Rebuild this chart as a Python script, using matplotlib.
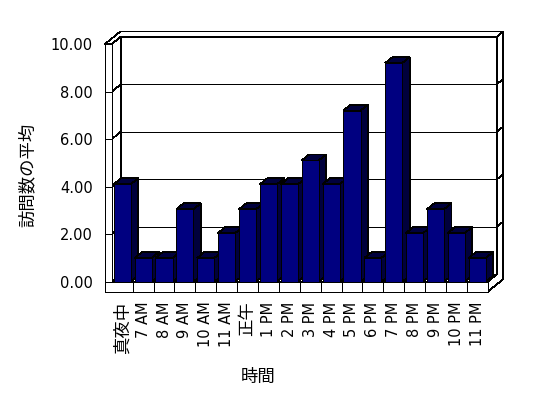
import matplotlib
matplotlib.use("Agg")
import matplotlib.pyplot as plt
from matplotlib.patches import Polygon

# Data
HOURS = ['真夜中', '7 AM', '8 AM', '9 AM', '10 AM', '11 AM', '正午', '1 PM', '2 PM',
         '3 PM', '4 PM', '5 PM', '6 PM', '7 PM', '8 PM', '9 PM', '10 PM', '11 PM']
AVG_VISITS = [4.1, 1.0, 1.0, 3.05, 1.0, 2.05, 3.05, 4.1, 4.1,
              5.1, 4.1, 7.2, 1.0, 9.2, 2.05, 3.05, 2.05, 1.0]
Y_TICKS = [0, 2, 4, 6, 8, 10]
Y_LABEL = '訪問数の平均'
X_LABEL = '時間'

# Look
FIG_W, FIG_H, DPI = 548, 398, 100
DEPTH = (0.75, 0.53)      # oblique offset of full depth, in data units
BAR_DEPTH = 0.47          # back face of the columns
WALL_DEPTH = 0.58         # front face of the back wall
LEFT_WALL = 0.33          # thickness of left wall (x units)
FLOOR = 0.42              # thickness of floor (y units)
BAR_WIDTH = 0.82
FRONT_COLOR = '#000080'
SHADE_COLOR = '#00003c'
LW = 0.55

plt.rcParams['font.family'] = ['DejaVu Sans', 'Noto Sans CJK JP']


def pt(x, y, d=0.0):
    """Project a point (x, y, depth) onto the 2D axes."""
    return (x + d * DEPTH[0], y + d * DEPTH[1])


def face(ax, pts, fc='white', z=1):
    ax.add_patch(Polygon([pt(*p) for p in pts], closed=True, facecolor=fc,
                         edgecolor='black', linewidth=LW, zorder=z,
                         clip_on=False, antialiased=False))


def line(ax, p0, p1, z=1.5):
    a, b = pt(*p0), pt(*p1)
    ax.plot([a[0], b[0]], [a[1], b[1]], color='black', linewidth=LW,
            zorder=z, clip_on=False, antialiased=False)


fig = plt.figure(figsize=(FIG_W / DPI, FIG_H / DPI), dpi=DPI)
# axes box = front plane of the chart
ax = fig.add_axes([111.8 / FIG_W, (FIG_H - 281.7) / FIG_H,
                   (487.7 - 111.8) / FIG_W, (281.7 - 44.0) / FIG_H])
n = len(HOURS)
ymax = Y_TICKS[-1]
ax.set_xlim(0, n)
ax.set_ylim(0, ymax)
ax.patch.set_visible(False)
for sp in ax.spines.values():
    sp.set_visible(False)

# walls and floor
face(ax, [(0, 0, WALL_DEPTH), (n, 0, WALL_DEPTH), (n, ymax, WALL_DEPTH), (0, ymax, WALL_DEPTH)])
face(ax, [(0, 0, 0), (0, ymax, 0), (0, ymax, WALL_DEPTH), (0, 0, WALL_DEPTH)])
face(ax, [(0, 0, 0), (n, 0, 0), (n, 0, WALL_DEPTH), (0, 0, WALL_DEPTH)])
face(ax, [(-LEFT_WALL, ymax, 0), (0, ymax, 0), (0, ymax, WALL_DEPTH), (n, ymax, WALL_DEPTH),
          (n, ymax, 1), (-LEFT_WALL, ymax, 1)])
face(ax, [(n, -FLOOR, 0), (n, 0, 0), (n, 0, WALL_DEPTH), (n, ymax, WALL_DEPTH),
          (n, ymax, 1), (n, -FLOOR, 1)])

# gridlines
for v in Y_TICKS[1:-1]:
    line(ax, (0, v, WALL_DEPTH), (n, v, WALL_DEPTH))
    line(ax, (0, v, 0), (0, v, WALL_DEPTH))
    line(ax, (n, v, WALL_DEPTH), (n, v, 1))

# columns
for i, v in enumerate(AVG_VISITS):
    x0 = i + 0.5 - BAR_WIDTH / 2
    x1 = i + 0.5 + BAR_WIDTH / 2
    z = 2 + i * 0.01
    face(ax, [(x1, 0, 0), (x1, v, 0), (x1, v, BAR_DEPTH), (x1, 0, BAR_DEPTH)], SHADE_COLOR, z)
    face(ax, [(x0, v, 0), (x1, v, 0), (x1, v, BAR_DEPTH), (x0, v, BAR_DEPTH)], SHADE_COLOR, z)
    face(ax, [(x0, 0, 0), (x1, 0, 0), (x1, v, 0), (x0, v, 0)], FRONT_COLOR, z)

# front faces of left wall and floor
face(ax, [(-LEFT_WALL, 0, 0), (0, 0, 0), (0, ymax, 0), (-LEFT_WALL, ymax, 0)], z=3)
face(ax, [(-LEFT_WALL, -FLOOR, 0), (n, -FLOOR, 0), (n, 0, 0), (-LEFT_WALL, 0, 0)], z=3)
for v in Y_TICKS[1:-1]:
    line(ax, (-LEFT_WALL, v, 0), (0, v, 0), z=3.5)
for i in range(1, n):
    line(ax, (i, -FLOOR, 0), (i, 0, 0), z=3.5)

# tick labels
ax.set_yticks(Y_TICKS)
ax.set_yticklabels([f'{v:.2f}' for v in Y_TICKS], fontsize=10.5)
ax.set_xticks([i + 0.5 for i in range(n)])
ax.set_xticklabels(HOURS, rotation=90, ha='center', va='top', fontsize=10.5)
for lab in ax.get_xticklabels():
    if not any(c.isascii() and c.isalnum() for c in lab.get_text()):
        lab.set_fontsize(12.5)
ax.tick_params(axis='y', length=0, pad=13.7)
ax.tick_params(axis='x', length=0, pad=14.4)

fig.text(28 / FIG_W, 1 - 175 / FIG_H, Y_LABEL, rotation=90, ha='center', va='center', fontsize=12.5)
fig.text(258 / FIG_W, 1 - 376.7 / FIG_H, X_LABEL, ha='center', va='center', fontsize=12.5)

fig.savefig('out.png', dpi=DPI, facecolor='white')
